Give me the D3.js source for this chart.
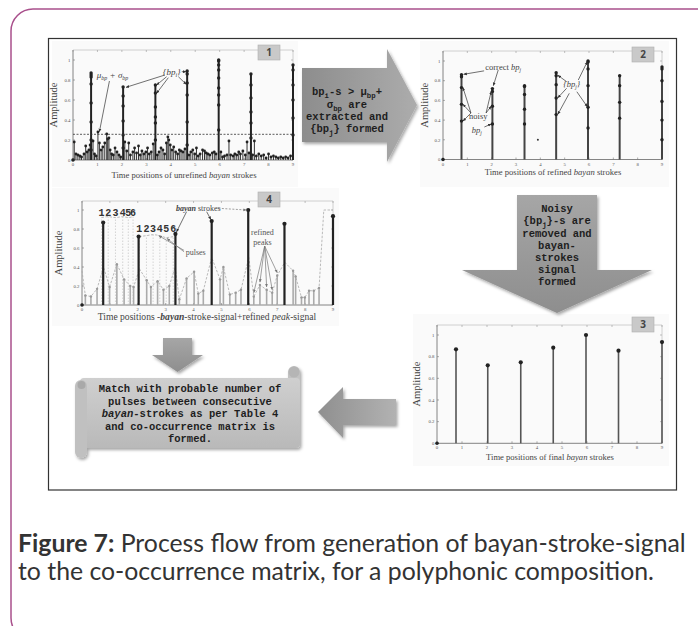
<!DOCTYPE html>
<html><head><meta charset="utf-8">
<script src="https://cdn.jsdelivr.net/npm/d3@7/dist/d3.min.js"></script>
<style>body{margin:0;background:#fff}svg{display:block}</style>
</head><body>
<svg id="c" width="698" height="626"></svg>
<script>
// ---------------- data ----------------
const xTicks = [0,1,2,3,4,5,6,7,8,9];
const yTicks = [0,0.2,0.4,0.6,0.8,1];
const yTickLabels = ["0","0.2","0.4","0.6","0.8","1"];

// final bayan strokes (panel 3)
const strokeX = [0.76,2.03,3.35,4.65,5.96,7.26,9.0];
const finalAmp = [0.868,0.72,0.748,0.883,1.0,0.855,0.935];

// panel 1 - unrefined bayan strokes
const p1StemX = [0.74,2.05,3.37,4.67,5.96,7.28,9.0];
const p1StemDots = [
  [0.87,0.85,0.83,0.76,0.57,0.38,0.2,0.1],
  [0.73,0.64,0.54,0.39,0.25,0.12],
  [0.75,0.67,0.53,0.43,0.37,0.2],
  [0.89,0.86,0.77,0.65,0.38,0.15],
  [1.0,0.99,0.95,0.9,0.82,0.72,0.65,0.55,0.3],
  [0.86,0.75,0.62,0.48,0.37,0.22],
  [0.95,0.9,0.75,0.6,0.42,0.25]
];
const p1NoiseX = [0.05,0.12,0.2,0.28,0.35,0.45,0.52,0.58,0.65,0.7,0.82,0.88,0.95,1.02,1.08,1.15,1.22,1.3,1.38,1.42,1.47,1.52,1.58,1.65,1.72,1.8,1.88,1.95,2.12,2.2,2.28,2.35,2.45,2.52,2.6,2.68,2.75,2.82,2.9,2.98,3.05,3.12,3.2,3.28,3.45,3.52,3.6,3.68,3.75,3.82,3.88,3.92,3.98,4.05,4.12,4.2,4.28,4.35,4.42,4.5,4.58,4.75,4.82,4.9,4.98,5.05,5.12,5.2,5.3,5.38,5.45,5.52,5.6,5.7,5.78,5.85,6.05,6.12,6.2,6.3,6.38,6.45,6.55,6.62,6.7,6.78,6.85,6.95,7.05,7.12,7.2,7.35,7.42,7.5,7.6,7.7,7.8,7.9,8.0,8.1,8.2,8.3,8.4,8.5,8.6,8.7,8.8,8.9];
const p1NoiseY = [0.18,0.06,0.05,0.04,0.03,0.06,0.14,0.08,0.1,0.15,0.19,0.06,0.04,0.28,0.17,0.1,0.13,0.17,0.26,0.21,0.22,0.1,0.06,0.05,0.12,0.08,0.05,0.03,0.18,0.09,0.17,0.05,0.08,0.12,0.07,0.14,0.05,0.09,0.06,0.08,0.12,0.06,0.08,0.16,0.05,0.08,0.12,0.1,0.06,0.17,0.23,0.2,0.15,0.1,0.13,0.08,0.06,0.1,0.09,0.08,0.11,0.05,0.08,0.1,0.06,0.12,0.04,0.06,0.1,0.09,0.07,0.06,0.05,0.07,0.08,0.06,0.08,0.03,0.04,0.05,0.19,0.05,0.04,0.06,0.05,0.08,0.06,0.09,0.05,0.18,0.07,0.05,0.19,0.04,0.06,0.04,0.05,0.02,0.06,0.03,0.04,0.03,0.02,0.03,0.02,0.03,0.02,0.04];
const p1Threshold = 0.257;

// panel 2 - refined bayan strokes (several candidate peaks per stroke)
const p2StemDots = [
  [0.86,0.84,0.73,0.56,0.39],
  [0.72,0.69,0.54,0.36],
  [0.75,0.74,0.66,0.51,0.36],
  [0.88,0.85,0.76,0.625,0.456],
  [1.0,0.99,0.92,0.75,0.53,0.32],
  [0.85,0.75,0.58,0.42],
  [0.94,0.92,0.80,0.59,0.40,0.2]
];
const p2LoneX = [3.9];
const p2LoneY = [0.2];

// panel 4 - refined peak signal
const peakX = [0.12,0.32,0.54,0.99,1.25,1.51,1.73,1.85,2.32,2.47,2.71,2.92,3.13,3.49,3.75,4.02,4.17,4.35,4.95,5.07,5.30,5.51,5.70,6.16,6.38,6.62,6.82,7.0,7.57,7.66,7.87,7.99,8.14,8.31,8.5];
const peakAmp = [0.10,0.09,0.17,0.19,0.43,0.27,0.20,0.19,0.26,0.19,0.25,0.16,0.20,0.06,0.28,0.35,0.12,0.15,0.27,0.40,0.11,0.13,0.16,0.09,0.21,0.16,0.13,0.31,0.36,0.30,0.08,0.08,0.15,0.15,0.18];
const envX = [0.0,0.12,0.32,0.54,0.77,0.99,1.25,1.51,1.73,1.85,2.06,2.32,2.47,2.71,2.92,3.13,3.34,3.49,3.75,4.02,4.17,4.35,4.65,4.95,5.07,5.30,5.51,5.70,5.98,6.16,6.38,6.62,6.82,7.0,7.27,7.57,7.66,7.87,7.99,8.14,8.31,8.5,8.67,9.0];
const envY = [0.36,0.10,0.09,0.17,0.40,0.19,0.43,0.27,0.20,0.19,0.38,0.26,0.19,0.25,0.16,0.20,0.40,0.06,0.28,0.35,0.12,0.15,0.50,0.27,0.40,0.11,0.13,0.16,0.50,0.09,0.21,0.16,0.13,0.31,0.45,0.36,0.30,0.08,0.08,0.15,0.15,0.18,1.0,1.0];
const pulseX1 = [0.70,0.94,1.2,1.46,1.66,1.83];
const pulseX2 = [2.05,2.31,2.55,2.79,3.02,3.27];
const pulseLevel1 = [0.92,0.93,0.92,0.93,0.92,0.93];
const pulseLevel2 = [0.72,0.73,0.74,0.73,0.71,0.72];
const pulseLabels = ["1","2","3","4","5","6"];

// ---------------- drawing ----------------
const svg = d3.select("#c");
const SERIF = "'Liberation Serif','DejaVu Serif',serif";
const MONO = "'Liberation Mono','DejaVu Sans Mono',monospace";
const SANS = "Lato,'Open Sans',sans-serif";
const defs = svg.append("defs");

function marker(id, color){
  defs.append("marker").attr("id",id).attr("viewBox","0 0 10 10")
    .attr("refX",9).attr("refY",5).attr("markerWidth",5).attr("markerHeight",5)
    .attr("orient","auto").append("path").attr("d","M0,1L10,5L0,9z").attr("fill",color);
}
marker("ab","#333"); marker("ag","#777");

const sh = defs.append("filter").attr("id","sh").attr("x","-20%").attr("y","-20%").attr("width","150%").attr("height","150%");
sh.append("feDropShadow").attr("dx",1.5).attr("dy",2).attr("stdDeviation",1.6).attr("flood-color","#000").attr("flood-opacity",0.35);

function grad(id, x2, y2, stops){
  const g = defs.append("linearGradient").attr("id",id).attr("x1",0).attr("y1",0).attr("x2",x2).attr("y2",y2);
  stops.forEach(s=>g.append("stop").attr("offset",s[0]).attr("stop-color",s[1]));
}
grad("gR",1,0,[[0,"#8d8d8d"],[1,"#acacac"]]);
grad("gD",0,1,[[0,"#a6a6a6"],[1,"#8e8e8e"]]);
grad("gL",1,0,[[0,"#8f8f8f"],[1,"#b2b2b2"]]);
grad("gS",0,1,[[0,"#cfcfcf"],[1,"#b9b9b9"]]);

// outer rounded frame
svg.append("rect").attr("x",11).attr("y",9).attr("width",740).attr("height",631).attr("rx",22)
  .attr("fill","none").attr("stroke","#a9508c").attr("stroke-width",1.5);
// inner figure frame
svg.append("rect").attr("x",48.5).attr("y",38.5).attr("width",628).attr("height",451.5)
  .attr("fill","#fff").attr("stroke","#333").attr("stroke-width",1.2);

// panel backgrounds
[[52,41,246,146],[420,41,249,146],[52,188,287,138],[413,314,256,152]].forEach(b=>{
  svg.append("rect").attr("x",b[0]).attr("y",b[1]).attr("width",b[2]).attr("height",b[3]).attr("fill","#fafafa");
});

function panel(c){
  const x = d3.scaleLinear().domain([0,9]).range([c.x0,c.x1]);
  const y = d3.scaleLinear().domain([0,1]).range([c.y0,c.y1]);
  const g = svg.append("g");
  g.append("line").attr("x1",c.x0).attr("x2",c.x1).attr("y1",c.top).attr("y2",c.top).attr("stroke","#c4c4c4").attr("stroke-width",0.8);
  g.append("line").attr("x1",c.x1).attr("x2",c.x1).attr("y1",c.top).attr("y2",c.y0).attr("stroke","#c4c4c4").attr("stroke-width",0.8);
  g.append("line").attr("x1",c.x0).attr("x2",c.x0).attr("y1",c.top).attr("y2",c.y0).attr("stroke","#666").attr("stroke-width",0.8);
  g.append("line").attr("x1",c.x0).attr("x2",c.x1).attr("y1",c.y0).attr("y2",c.y0).attr("stroke","#666").attr("stroke-width",0.8);
  xTicks.forEach(t=>{
    g.append("line").attr("x1",x(t)).attr("x2",x(t)).attr("y1",c.y0).attr("y2",c.y0-2).attr("stroke","#777").attr("stroke-width",0.6);
    g.append("line").attr("x1",x(t)).attr("x2",x(t)).attr("y1",c.top).attr("y2",c.top+2).attr("stroke","#999").attr("stroke-width",0.6);
    g.append("text").attr("x",x(t)).attr("y",c.y0+6).attr("text-anchor","middle")
      .attr("font-family",SERIF).attr("font-size",4.8).attr("fill","#555").text(t);
  });
  yTicks.forEach((t,i)=>{
    g.append("line").attr("x1",c.x0).attr("x2",c.x0+2).attr("y1",y(t)).attr("y2",y(t)).attr("stroke","#777").attr("stroke-width",0.6);
    g.append("line").attr("x1",c.x1).attr("x2",c.x1-2).attr("y1",y(t)).attr("y2",y(t)).attr("stroke","#999").attr("stroke-width",0.6);
    g.append("text").attr("x",c.x0-2.5).attr("y",y(t)+1.7).attr("text-anchor","end")
      .attr("font-family",SERIF).attr("font-size",4.8).attr("fill","#555").text(yTickLabels[i]);
  });
  g.append("text").attr("transform",`translate(${c.ax},${(c.top+c.y0)/2}) rotate(-90)`)
    .attr("text-anchor","middle").attr("font-family",SERIF).attr("font-size",10.5).attr("fill","#444").text("Amplitude");
  const lab = g.append("text").attr("x",c.lx).attr("y",c.ly).attr("text-anchor","middle")
    .attr("font-family",SERIF).attr("font-size",c.lfs).attr("fill","#444");
  c.label.forEach(p=>{
    const t = lab.append("tspan").text(p[0]);
    if(p[1]) t.attr("font-style","italic");
    if(p[2]) t.attr("font-weight","bold");
  });
  // number box
  g.append("rect").attr("x",c.bx).attr("y",c.by).attr("width",22).attr("height",15)
    .attr("fill","#c9c9c9").attr("stroke","#b0b0b0").attr("stroke-width",0.6);
  g.append("text").attr("x",c.bx+11).attr("y",c.by+11).attr("text-anchor","middle")
    .attr("font-family","'Open Sans',sans-serif").attr("font-weight","bold").attr("font-size",10).attr("fill","#444").text(c.num);
  // origin dot
  g.append("circle").attr("cx",x(0)).attr("cy",y(0)).attr("r",1.8).attr("fill","#222");
  return {g,x,y};
}

function arrow(g, x1,y1,x2,y2, gray, dashed){
  const l = g.append("line").attr("x1",x1).attr("y1",y1).attr("x2",x2).attr("y2",y2)
    .attr("stroke",gray?"#777":"#333").attr("stroke-width",0.7)
    .attr("marker-end",gray?"url(#ag)":"url(#ab)");
  if(dashed) l.attr("stroke-dasharray","2,1.5");
}
function stemsWithDots(g,x,y,xs,dots,col,w,r){
  xs.forEach((xv,i)=>{
    const top = d3.max(dots[i]);
    g.append("line").attr("x1",x(xv)).attr("x2",x(xv)).attr("y1",y(0)).attr("y2",y(top)).attr("stroke",col).attr("stroke-width",w);
    dots[i].forEach(d=>g.append("circle").attr("cx",x(xv)).attr("cy",y(d)).attr("r",r).attr("fill","#222"));
  });
}

// ---- Panel 1 ----
{
  const {g,x,y} = panel({x0:73,x1:293,y0:160,y1:60,top:50,ax:57,lx:184,ly:178,lfs:8.6,
    label:[["Time positions of unrefined "],["bayan",1],[" strokes"]],bx:258,by:45,num:"1"});
  p1NoiseX.forEach((xv,i)=>{
    g.append("line").attr("x1",x(xv)).attr("x2",x(xv)).attr("y1",y(0)).attr("y2",y(p1NoiseY[i])).attr("stroke","#333").attr("stroke-width",1);
    g.append("circle").attr("cx",x(xv)).attr("cy",y(p1NoiseY[i])).attr("r",1.4).attr("fill","#222");
  });
  stemsWithDots(g,x,y,p1StemX,p1StemDots,"#222",2,1.7);
  g.append("line").attr("x1",x(0)).attr("x2",x(9)).attr("y1",y(p1Threshold)).attr("y2",y(p1Threshold))
    .attr("stroke","#333").attr("stroke-width",0.8).attr("stroke-dasharray","2,1.5");
  const mt = g.append("text").attr("x",x(1.62)).attr("y",y(0.85)+3).attr("text-anchor","middle")
    .attr("font-family",SERIF).attr("font-size",9).attr("font-style","italic").attr("fill","#444");
  mt.append("tspan").text("μ"); mt.append("tspan").attr("font-size",6).attr("dy",2).text("bp");
  mt.append("tspan").attr("dy",-2).text(" + σ"); mt.append("tspan").attr("font-size",6).attr("dy",2).text("bp");
  arrow(g,x(1.49),y(0.79),x(1.08),y(0.283));
  const bt = g.append("text").attr("x",x(4.04)).attr("y",y(0.883)+3).attr("text-anchor","middle")
    .attr("font-family",SERIF).attr("font-size",9).attr("font-style","italic").attr("fill","#444");
  bt.append("tspan").text("{bp"); bt.append("tspan").attr("font-size",6).attr("dy",2).text("i"); bt.append("tspan").attr("dy",-2).text("}");
  arrow(g,x(3.76),y(0.85),x(2.17),y(0.727));
  arrow(g,x(3.83),y(0.833),x(3.42),y(0.75));
  arrow(g,x(3.90),y(0.823),x(3.42),y(0.667));
  arrow(g,x(4.31),y(0.833),x(4.63),y(0.757));
  arrow(g,x(4.45),y(0.883),x(4.63),y(0.883));
}

// ---- Panel 2 ----
{
  const {g,x,y} = panel({x0:443,x1:662,y0:159.5,y1:61,top:51,ax:428,lx:553,ly:174.5,lfs:8.6,
    label:[["Time positions of refined "],["bayan",1],[" strokes"]],bx:632,by:47,num:"2"});
  stemsWithDots(g,x,y,strokeX,p2StemDots,"#444",2,1.7);
  p2LoneX.forEach((xv,i)=>g.append("circle").attr("cx",x(xv)).attr("cy",y(p2LoneY[i])).attr("r",1).attr("fill","#333"));
  const ct = g.append("text").attr("x",x(2.47)).attr("y",y(0.936)+3).attr("text-anchor","middle")
    .attr("font-family",SERIF).attr("font-size",8.5).attr("fill","#444");
  ct.append("tspan").text("correct "); ct.append("tspan").attr("font-style","italic").text("bp");
  ct.append("tspan").attr("font-style","italic").attr("font-size",5.5).attr("dy",2).text("j");
  arrow(g,x(1.69),y(0.90),x(0.85),y(0.865));
  arrow(g,x(2.27),y(0.909),x(2.07),y(0.75));
  g.append("text").attr("x",x(1.45)).attr("y",y(0.445)+3).attr("text-anchor","middle")
    .attr("font-family",SERIF).attr("font-size",8.5).attr("fill","#444").text("noisy");
  const nb = g.append("text").attr("x",x(1.39)).attr("y",y(0.30)+3).attr("text-anchor","middle")
    .attr("font-family",SERIF).attr("font-size",8.5).attr("font-style","italic").attr("fill","#444");
  nb.append("tspan").text("bp"); nb.append("tspan").attr("font-size",5.5).attr("dy",2).text("j");
  [[0.73],[0.56],[0.39]].forEach(d=>arrow(g,x(1.15),y(0.472),x(0.82),y(d[0])));
  [[0.69],[0.54]].forEach(d=>arrow(g,x(1.77),y(0.472),x(1.98),y(d[0])));
  arrow(g,x(1.7),y(0.33),x(1.98),y(0.36));
  const bj = g.append("text").attr("x",x(5.29)).attr("y",y(0.763)+3).attr("text-anchor","middle")
    .attr("font-family",SERIF).attr("font-size",8.5).attr("font-style","italic").attr("fill","#444");
  bj.append("tspan").text("{bp"); bj.append("tspan").attr("font-size",5.5).attr("dy",2).text("j"); bj.append("tspan").attr("dy",-2).text("}");
  arrow(g,x(5.08),y(0.79),x(4.72),y(0.855));
  arrow(g,x(5.08),y(0.723),x(4.72),y(0.627));
  arrow(g,x(5.19),y(0.672),x(4.72),y(0.459));
  arrow(g,x(5.56),y(0.807),x(5.93),y(0.993));
  arrow(g,x(5.50),y(0.688),x(5.93),y(0.536));
}

// ---- Panel 4 ----
{
  const {g,x,y} = panel({x0:82,x1:333,y0:305,y1:210,top:201,ax:62,lx:207,ly:320,lfs:9.6,
    label:[["Time positions -"],["bayan",1,1],["-stroke-signal+refined "],["peak",1],["-signal"]],bx:258,by:192,num:"4"});
  // pulse grid
  [[pulseX1,pulseLevel1],[pulseX2,pulseLevel2]].forEach(([px,pl])=>{
    px.forEach((xv,i)=>g.append("line").attr("x1",x(xv)).attr("x2",x(xv)).attr("y1",y(0)).attr("y2",y(pl[i]))
      .attr("stroke","#bbb").attr("stroke-width",0.6).attr("stroke-dasharray","1.5,1.5"));
    g.append("path").attr("d",d3.line().curve(d3.curveMonotoneX)(px.map((xv,i)=>[x(xv),y(pl[i])])))
      .attr("fill","none").attr("stroke","#aaa").attr("stroke-width",0.8).attr("stroke-dasharray","2.5,1.5");
  });
  g.append("path").attr("d",d3.line()(envX.map((xv,i)=>[x(xv),y(envY[i])])))
    .attr("fill","none").attr("stroke","#aaa").attr("stroke-width",0.8).attr("stroke-dasharray","2.5,1.5");
  peakX.forEach((xv,i)=>{
    g.append("line").attr("x1",x(xv)).attr("x2",x(xv)).attr("y1",y(0)).attr("y2",y(peakAmp[i])).attr("stroke","#ababab").attr("stroke-width",1.6);
    g.append("circle").attr("cx",x(xv)).attr("cy",y(peakAmp[i])).attr("r",1.2).attr("fill","#999");
  });
  strokeX.forEach((xv,i)=>{
    g.append("line").attr("x1",x(xv)).attr("x2",x(xv)).attr("y1",y(0)).attr("y2",y(finalAmp[i])).attr("stroke","#222").attr("stroke-width",2.2);
    g.append("circle").attr("cx",x(xv)).attr("cy",y(finalAmp[i])).attr("r",2.1).attr("fill","#222");
  });
  pulseX1.forEach((xv,i)=>g.append("text").attr("x",x(xv)).attr("y",y(0.94)).attr("text-anchor","middle")
    .attr("font-family",MONO).attr("font-weight","bold").attr("font-size",10).attr("fill","#333").text(pulseLabels[i]));
  pulseX2.forEach((xv,i)=>g.append("text").attr("x",x(xv)).attr("y",y(0.765)).attr("text-anchor","middle")
    .attr("font-family",MONO).attr("font-weight","bold").attr("font-size",10).attr("fill","#333").text(pulseLabels[i]));
  const bs = g.append("text").attr("x",x(4.17)).attr("y",y(1.018)+3).attr("text-anchor","middle")
    .attr("font-family",SERIF).attr("font-size",8).attr("fill","#444");
  bs.append("tspan").attr("font-style","italic").attr("font-weight","bold").text("bayan");
  bs.append("tspan").text(" strokes");
  arrow(g,x(4.89),y(1.018),x(5.9),y(1.0),true,true);
  arrow(g,x(4.47),y(0.982),x(4.62),y(0.9));
  arrow(g,x(3.75),y(0.982),x(3.39),y(0.77));
  g.append("text").attr("x",x(3.72)).attr("y",y(0.56)+3).attr("font-family",SERIF).attr("font-size",8).attr("fill","#555").text("pulses");
  arrow(g,x(3.66),y(0.575),x(2.75),y(0.73),true);
  arrow(g,x(3.66),y(0.56),x(3.05),y(0.7),true);
  g.append("text").attr("x",x(6.47)).attr("y",y(0.772)+3).attr("text-anchor","middle").attr("font-family",SERIF).attr("font-size",8).attr("fill","#555").text("refined");
  g.append("text").attr("x",x(6.47)).attr("y",y(0.666)+3).attr("text-anchor","middle").attr("font-family",SERIF).attr("font-size",8).attr("fill","#555").text("peaks");
  [[6.16,0.13],[6.38,0.24],[6.62,0.19],[6.82,0.16],[7.0,0.34]].forEach(p=>arrow(g,x(6.55),y(0.62),x(p[0]),y(p[1]),true));
}

// ---- Panel 3 ----
{
  const {g,x,y} = panel({x0:437,x1:662,y0:443.3,y1:335,top:325,ax:420,lx:550,ly:459.5,lfs:8.6,
    label:[["Time positions of final "],["bayan",1],[" strokes"]],bx:632,by:317,num:"3"});
  strokeX.forEach((xv,i)=>{
    g.append("line").attr("x1",x(xv)).attr("x2",x(xv)).attr("y1",y(0)).attr("y2",y(finalAmp[i])).attr("stroke","#555").attr("stroke-width",1.6);
    g.append("circle").attr("cx",x(xv)).attr("cy",y(finalAmp[i])).attr("r",2.1).attr("fill","#222");
  });
}

// ---- block arrows ----
function poly(pts, fill){
  svg.append("path").attr("d","M"+pts.map(p=>p.join(",")).join("L")+"Z").attr("fill",fill).attr("filter","url(#sh)");
}
poly([[302,68],[387,68],[387,49],[417,105],[387,162],[387,142],[302,142]],"url(#gR)");
poly([[517,195],[597,195],[597,270],[652,270],[557,313],[462,270],[517,270]],"url(#gD)");
poly([[396,399],[343,399],[343,387],[318,412],[343,438],[343,425],[396,425]],"url(#gL)");
poly([[163,338],[192,338],[192,355],[203,355],[177.5,372],[152,355],[163,355]],"url(#gD)");

function monoLines(cx, ys, lines, fs){
  lines.forEach((ln,i)=>{
    const t = svg.append("text").attr("x",cx).attr("y",ys[i]).attr("text-anchor","middle")
      .attr("font-family",MONO).attr("font-weight","bold").attr("font-size",fs).attr("fill","#1e1e1e");
    ln.forEach(seg=>{
      const s = t.append("tspan").text(seg[0]);
      if(seg[1]==="sub"){ s.attr("font-size",fs*0.7).attr("dy",2.5); }
      if(seg[1]==="back"){ s.attr("dy",-2.5); }
      if(seg[1]==="it"){ s.attr("font-style","italic"); }
    });
  });
}
monoLines(347,[95,108,120,132],[
  [["bp"],["i","sub"],["-s > μ","back"],["bp","sub"],["+","back"]],
  [["σ"],["bp","sub"],[" are","back"]],
  [["extracted and"]],
  [["{bp"],["j","sub"],["} formed","back"]]
],10.5);
monoLines(557,[212,224.3,236.5,248.7,261,273.2,285.4],[
  [["Noisy"]],
  [["{bp"],["j","sub"],["}-s are","back"]],
  [["removed and"]],
  [["bayan-"]],
  [["strokes"]],
  [["signal"]],
  [["formed"]]
],10.5);

// ---- scroll ----
{
  const g = svg.append("g").attr("filter","url(#sh)");
  g.append("rect").attr("x",288).attr("y",366).attr("width",12).attr("height",20).attr("rx",6).attr("fill","#c2c2c2");
  g.append("rect").attr("x",80).attr("y",378).attr("width",220).attr("height",70).attr("rx",4).attr("fill","url(#gS)");
  g.append("rect").attr("x",75).attr("y",380).attr("width",12).attr("height",78).attr("rx",6).attr("fill","#c0c0c0");
  svg.append("circle").attr("cx",294).attr("cy",372).attr("r",5.5).attr("fill","#b5b5b5");
  svg.append("circle").attr("cx",81.5).attr("cy",385).attr("r",4).attr("fill","#a9a9a9");
}
monoLines(190,[392,404.5,417,429.5,442],[
  [["Match with probable number of"]],
  [["pulses between consecutive"]],
  [["bayan","it"],["-strokes as per Table 4"]],
  [["and co-occurrence matrix is"]],
  [["formed."]]
],10.5);

// ---- caption ----
const capBold = "Figure 7:";
const capRest1 = "\u00a0Process flow from generation of bayan-stroke-signal";
const capLine2 = "to the co-occurrence matrix, for a polyphonic composition.";
const probe = svg.append("text").attr("font-family",SANS).attr("font-size",20);
probe.append("tspan").attr("font-weight","bold").text(capBold);
probe.append("tspan").text(capRest1);
const fs = 20*668/probe.node().getComputedTextLength();
probe.remove();
const cb = svg.append("text").attr("x",18).attr("y",552).attr("font-family",SANS).attr("font-size",fs)
  .attr("font-weight","bold").attr("fill","#333").text(capBold);
const bw = cb.node().getComputedTextLength();
svg.append("text").attr("x",18+bw).attr("y",552).attr("font-family",SANS).attr("font-size",fs).attr("fill","#333").text(capRest1);
svg.append("text").attr("x",18).attr("y",580).attr("font-family",SANS).attr("font-size",fs).attr("fill","#333").text(capLine2);
</script>
</body></html>
